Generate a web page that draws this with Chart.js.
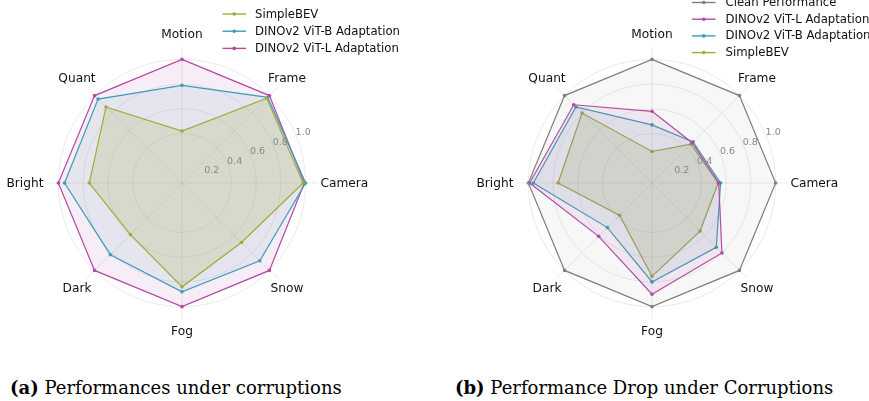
<!DOCTYPE html>
<html><head><meta charset="utf-8">
<script src="https://cdn.jsdelivr.net/npm/chart.js@4.4.1/dist/chart.umd.min.js"></script>
<style>
html,body{margin:0;padding:0;background:#fff;}
#wrap{position:relative;width:869px;height:401px;overflow:hidden;background:#fff;}
canvas{position:absolute;top:0;}
#ca{left:0}
#cb{left:435px}
.cap{position:absolute;font-family:"DejaVu Serif",serif;font-size:18px;line-height:20px;white-space:nowrap;color:#000;top:378px;}
#capA{left:10px}
#capB{left:455px}
</style></head><body>
<div id="wrap">
<canvas id="ca" width="434" height="360"></canvas>
<canvas id="cb" width="434" height="360"></canvas>
<div class="cap" id="capA"><b>(a)</b> Performances under corruptions</div>
<div class="cap" id="capB"><b>(b)</b> Performance Drop under Corruptions</div>
</div>
<script>
// ---- data ----
const categories = ['Motion', 'Frame', 'Camera', 'Snow', 'Fog', 'Dark', 'Bright', 'Quant'];
const tickValues = [0.2, 0.4, 0.6, 0.8, 1.0];
const tickLabels = ['0.2', '0.4', '0.6', '0.8', '1.0'];

const nameSimpleBEV = 'SimpleBEV';
const nameVitB = 'DINOv2 ViT-B Adaptation';
const nameVitL = 'DINOv2 ViT-L Adaptation';
const nameClean = 'Clean Performance';

// panel (a): performances under corruptions
const simpleBEV_a = [0.42, 0.97, 0.98, 0.68, 0.84, 0.59, 0.75, 0.87];
const vitB_a      = [0.79, 0.98, 1.00, 0.89, 0.88, 0.82, 0.95, 0.96];
const vitL_a      = [1.00, 1.00, 0.99, 1.00, 1.00, 1.00, 1.00, 1.00];

// panel (b): performance drop under corruptions
const clean_b     = [1.00, 1.00, 1.00, 1.00, 1.00, 1.00, 1.00, 1.00];
const vitL_b      = [0.58, 0.46, 0.54, 0.80, 0.90, 0.61, 0.99, 0.895];
const vitB_b      = [0.47, 0.47, 0.555, 0.735, 0.80, 0.51, 0.96, 0.87];
const simpleBEV_b = [0.255, 0.445, 0.535, 0.55, 0.755, 0.37, 0.76, 0.80];

// ---- styles ----
const COL = {
  simple: [160, 172, 58],
  vitB: [61, 157, 181],
  vitL: [180, 74, 166],
  clean: [127, 127, 127]
};
const rgb = c => `rgb(${c[0]},${c[1]},${c[2]})`;
const rgba = (c, a) => `rgba(${c[0]},${c[1]},${c[2]},${a})`;

function makeDs(label, data, col, alpha) {
  return {
    label, data,
    borderColor: rgb(col),
    backgroundColor: rgba(col, alpha),
    borderWidth: 1.2,
    pointRadius: 1.8,
    pointBackgroundColor: rgb(col),
    pointBorderColor: rgb(col),
    pointBorderWidth: 0,
    pointHoverRadius: 1.8,
    fill: true
  };
}

const axisLabelsPlugin = {
  id: 'axisLabels',
  afterDraw(chart, args, opts) {
    const s = chart.scales.r;
    const ctx = chart.ctx;
    const R = s.getDistanceFromCenterForValue(s.max) + opts.pad;
    ctx.save();
    ctx.font = `${opts.fontSize}px "DejaVu Sans"`;
    ctx.textAlign = 'center';
    ctx.textBaseline = 'middle';
    ctx.fillStyle = '#111';
    chart.data.labels.forEach((lab, i) => {
      const a = s.getIndexAngle(i) - Math.PI / 2;
      const w = ctx.measureText(lab).width, h = opts.boxH;
      const c = Math.abs(Math.cos(a)), sn = Math.abs(Math.sin(a));
      const ext = Math.min(c > 1e-6 ? (w / 2) / c : Infinity, sn > 1e-6 ? (h / 2) / sn : Infinity);
      let d = R + ext;
      if (sn > 0.99) d += opts.extraV;
      if (c > 0.99) d += opts.extraH;
      ctx.fillText(lab, s.xCenter + Math.cos(a) * d, s.yCenter + Math.sin(a) * d + 0.5);
    });
    ctx.restore();
  },
  afterDatasetsDraw(chart, args, opts) {
    const s = chart.scales.r;
    const ctx = chart.ctx;
    const ang = -22.5 * Math.PI / 180;
    ctx.save();
    ctx.font = `${opts.tickFontSize}px "DejaVu Sans"`;
    ctx.textAlign = 'center';
    ctx.textBaseline = 'middle';
    ctx.fillStyle = '#888';
    tickValues.forEach((v, i) => {
      const d = s.getDistanceFromCenterForValue(v) + 7.5;
      ctx.fillText(tickLabels[i], s.xCenter + Math.cos(ang) * d, s.yCenter + Math.sin(ang) * d);
    });
    ctx.restore();
  }
};

const panelLegendPlugin = {
  id: 'panelLegend',
  afterDraw(chart, args, opts) {
    const ctx = chart.ctx;
    ctx.save();
    ctx.font = `${opts.fontSize}px "DejaVu Sans"`;
    ctx.textBaseline = 'middle';
    ctx.textAlign = 'left';
    opts.order.forEach((di, row) => {
      const ds = chart.data.datasets[di];
      const y = opts.y + row * opts.rowGap;
      ctx.strokeStyle = ds.borderColor;
      ctx.lineWidth = 1.4;
      ctx.beginPath(); ctx.moveTo(opts.x, y); ctx.lineTo(opts.x + opts.lineLen, y); ctx.stroke();
      ctx.fillStyle = ds.borderColor;
      ctx.beginPath(); ctx.arc(opts.x + opts.lineLen / 2, y, 1.8, 0, Math.PI * 2); ctx.fill();
      ctx.fillStyle = '#111';
      ctx.fillText(ds.label, opts.x + opts.lineLen + opts.gap, y + 0.5);
    });
    ctx.restore();
  }
};

function radarOptions(pad, legendOpts) {
  return {
    responsive: false,
    animation: false,
    devicePixelRatio: 1,
    layout: { padding: pad },
    plugins: {
      legend: { display: false },
      tooltip: { enabled: false },
      axisLabels: { pad: 4, fontSize: 12.2, boxH: 12, tickFontSize: 9.5, extraV: 2.8, extraH: -1.5 },
      panelLegend: legendOpts
    },
    scales: {
      r: {
        min: 0, max: 1.1,
        ticks: { display: false, stepSize: 0.2 },
        afterBuildTicks: sc => { sc.ticks = sc.ticks.filter(t => t.value > 0.0001 && t.value <= 1.0001); },
        grid: { circular: true, color: 'rgba(0,0,0,0.11)', lineWidth: 0.8 },
        angleLines: { color: 'rgba(0,0,0,0.11)', lineWidth: 0.8 },
        pointLabels: { display: false }
      }
    }
  };
}

new Chart(document.getElementById('ca'), {
  type: 'radar',
  data: {
    labels: categories,
    datasets: [
      makeDs(nameSimpleBEV, simpleBEV_a, COL.simple, 0.2),
      makeDs(nameVitB, vitB_a, COL.vitB, 0.1),
      makeDs(nameVitL, vitL_a, COL.vitL, 0.1)
    ]
  },
  options: radarOptions({ left: 46, right: 115, top: 47, bottom: 40 },
    { x: 222.5, y: 14, rowGap: 17.2, lineLen: 23.5, gap: 9, fontSize: 11.7, order: [0, 1, 2] }),
  plugins: [axisLabelsPlugin, panelLegendPlugin]
});

new Chart(document.getElementById('cb'), {
  type: 'radar',
  data: {
    labels: categories,
    datasets: [
      makeDs(nameClean, clean_b, COL.clean, 0.06),
      makeDs(nameVitL, vitL_b, COL.vitL, 0.1),
      makeDs(nameVitB, vitB_b, COL.vitB, 0.1),
      makeDs(nameSimpleBEV, simpleBEV_b, COL.simple, 0.2)
    ]
  },
  options: radarOptions({ left: 81, right: 80, top: 47, bottom: 40 },
    { x: 257, y: 2.5, rowGap: 16.7, lineLen: 23.5, gap: 10, fontSize: 11.7, order: [0, 1, 2, 3] }),
  plugins: [axisLabelsPlugin, panelLegendPlugin]
});
</script>
</body></html>
